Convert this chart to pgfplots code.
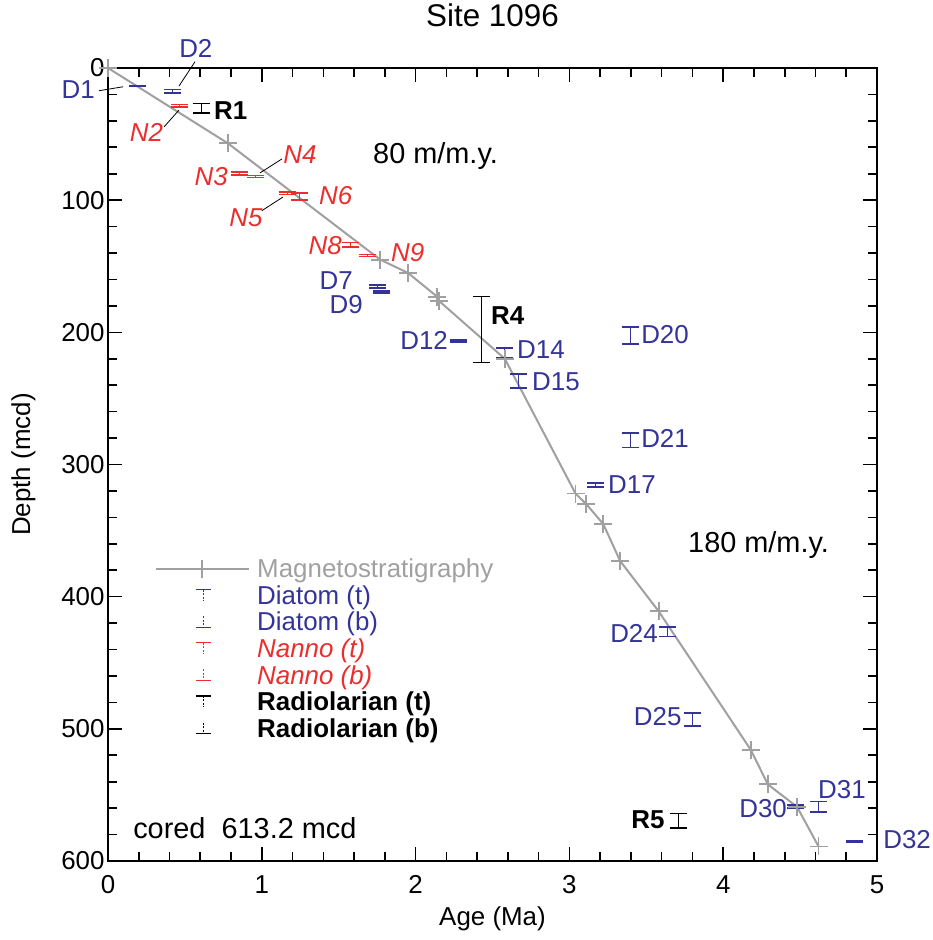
\documentclass[border=0pt]{standalone}
\usepackage{pgfplots}
\pgfplotsset{compat=1.18}
\usepackage{fontspec}
\setmainfont{Liberation Sans}
\definecolor{dblue}{RGB}{51,51,153}
\definecolor{nred}{RGB}{235,45,45}
\definecolor{mgray}{RGB}{160,160,160}
\begin{document}
\begin{tikzpicture}[font=\fontsize{26}{31}\selectfont, lab/.style={inner sep=0pt},
  ann/.style={inner sep=0pt, font=\fontsize{29}{34}\selectfont}]
\begin{axis}[
  scale only axis, width=769bp, height=793bp,
  xmin=0, xmax=5, ymin=0, ymax=600, y dir=reverse,
  xtick={0,1,2,3,4,5}, ytick={0,100,200,300,400,500,600},
  minor x tick num=4, minor y tick num=4,
  tick align=inside, major tick length=14bp, minor tick length=9bp,
  axis line style={line width=2.5bp},
  every tick/.style={line width=1.6bp, black},
  /pgf/number format/assume math mode=true,
  tick label style={font=\fontsize{26}{31}\selectfont},
  xticklabel style={anchor=base, yshift=-32bp},
  clip=false,
  title={Site 1096},
  title style={font=\fontsize{31.5}{36}\selectfont, at={(axis description cs:0.5,1)}, anchor=base, yshift=36bp},
  xlabel={Age (Ma)}, ylabel={Depth (mcd)},
  xlabel style={at={(axis description cs:0.5,0)}, anchor=base, yshift=-64bp},
  ylabel style={yshift=19bp},
  legend cell align=left,
  legend style={at={(0.057,0.386)}, anchor=north west, draw=none, fill=none,
    font=\fontsize{26}{31}\selectfont, row sep=2.3bp},
]
% Magnetostratigraphy
\addplot[mgray, line width=2bp, mark=+, mark size=9bp, mark options={line width=1.8bp}, forget plot] coordinates {
(0,0) (0.78,57) (1.77,145) (1.95,155) (2.14,173) (2.15,176) (2.58,220)
(3.04,322) (3.11,330) (3.22,345) (3.33,373) (3.58,411) (4.18,516) (4.29,542) (4.48,559) (4.62,589)};
% Diatoms
\addplot[mark=none, draw=none, forget plot,
  error bars/.cd, y dir=both, y explicit, error mark=|,
  error bar style={draw=dblue, line width=1bp},
  error mark options={draw=dblue, line width=1.6bp, mark size=8.5bp}] coordinates {
(0.195,13.5) +- (0,0.4)
(0.42,17.5) +- (0,1.2)
(1.755,165.2) +- (0,1.2)
(1.78,169.5) +- (0,0.8)
(2.28,206.5) +- (0,0.8)
(2.575,215.5) +- (0,3.5)
(2.67,236.8) +- (0,5.2)
(3.40,202.5) +- (0,6.5)
(3.40,281.5) +- (0,5.5)
(3.17,315.5) +- (0,1.5)
(3.64,426.5) +- (0,3.5)
(3.80,493) +- (0,5)
(4.47,558.8) +- (0,1.2)
(4.62,559) +- (0,4)
(4.855,585.5) +- (0,0.5)
};
% Nannofossils
\addplot[mark=none, draw=none, forget plot,
  error bars/.cd, y dir=both, y explicit, error mark=|,
  error bar style={draw=nred, line width=1bp},
  error mark options={draw=nred, line width=1.6bp, mark size=8.5bp}] coordinates {
(0.465,28.5) +- (0,1)
(0.855,79.8) +- (0,1.3)
(0.96,82.2) +- (0,0.8)
(1.167,94.8) +- (0,0.8)
(1.245,97.3) +- (0,2.8)
(1.577,133.7) +- (0,1.7)
(1.69,141.8) +- (0,0.8)
};
% Radiolarians
\addplot[mark=none, draw=none, forget plot,
  error bars/.cd, y dir=both, y explicit, error mark=|,
  error bar style={draw=black, line width=1bp},
  error mark options={draw=black, line width=1.4bp, mark size=8.5bp}] coordinates {
(0.605,30.5) +- (0,3.5)
(2.43,198) +- (0,25)
(3.71,569.5) +- (0,5.5)
};
% leader lines
\addplot[black, line width=0.8bp, forget plot] coordinates {(-0.059,17.2) (0.098,14.2)};
\addplot[black, line width=0.8bp, forget plot] coordinates {(0.566,-4.8) (0.462,13.6)};
\addplot[black, line width=0.8bp, forget plot] coordinates {(0.364,44.6) (0.462,31.8)};
\addplot[black, line width=0.8bp, forget plot] coordinates {(1.131,68.8) (0.988,79.4)};
\addplot[black, line width=0.8bp, forget plot] coordinates {(1.0,108) (1.138,97.6)};
% labels
\node[lab, dblue, anchor=east] at (axis cs:-0.085,16.6) {D1};
\node[lab, dblue] at (axis cs:0.571,-15.1) {D2};
\node[lab, nred, font=\fontsize{26}{31}\selectfont\itshape] at (axis cs:0.25,48.6) {N2};
\node[lab, black, anchor=west, font=\fontsize{26}{31}\selectfont\bfseries] at (axis cs:0.689,32.5) {R1};
\node[ann, anchor=west] at (axis cs:1.723,66.6) {80 m/m.y.};
\node[lab, nred, anchor=east, font=\fontsize{26}{31}\selectfont\itshape] at (axis cs:0.78,82.5) {N3};
\node[lab, nred, font=\fontsize{26}{31}\selectfont\itshape] at (axis cs:1.248,65.4) {N4};
\node[lab, nred, font=\fontsize{26}{31}\selectfont\itshape] at (axis cs:0.897,113.5) {N5};
\node[lab, nred, anchor=west, font=\fontsize{26}{31}\selectfont\itshape] at (axis cs:1.372,96.8) {N6};
\node[lab, nred, anchor=east, font=\fontsize{26}{31}\selectfont\itshape] at (axis cs:1.521,134.7) {N8};
\node[lab, nred, anchor=west, font=\fontsize{26}{31}\selectfont\itshape] at (axis cs:1.84,140) {N9};
\node[lab, dblue, anchor=east] at (axis cs:1.593,161) {D7};
\node[lab, dblue, anchor=east] at (axis cs:1.658,179) {D9};
\node[lab, dblue, anchor=east] at (axis cs:2.211,206.5) {D12};
\node[lab, black, anchor=west, font=\fontsize{26}{31}\selectfont\bfseries] at (axis cs:2.49,187) {R4};
\node[lab, dblue, anchor=west] at (axis cs:2.659,213.4) {D14};
\node[lab, dblue, anchor=west] at (axis cs:2.757,237) {D15};
\node[lab, dblue, anchor=west] at (axis cs:3.466,202) {D20};
\node[lab, dblue, anchor=west] at (axis cs:3.466,280) {D21};
\node[lab, dblue, anchor=west] at (axis cs:3.251,315.5) {D17};
\node[lab, dblue, anchor=east] at (axis cs:3.576,427.5) {D24};
\node[lab, dblue, anchor=east] at (axis cs:3.73,491) {D25};
\node[lab, dblue, anchor=east] at (axis cs:4.415,560) {D30};
\node[lab, dblue, anchor=west] at (axis cs:4.616,546) {D31};
\node[lab, dblue, anchor=west] at (axis cs:5.04,584) {D32};
\node[lab, black, anchor=east, font=\fontsize{26}{31}\selectfont\bfseries] at (axis cs:3.62,569) {R5};
\node[ann, anchor=west] at (axis cs:3.771,361) {180 m/m.y.};
\node[ann, anchor=west] at (axis cs:0.163,575) {cored\ \ 613.2 mcd};
% legend
\addlegendimage{legend image code/.code={
  \path (0bp,-9bp) (99bp,9bp);
  \draw[mgray,line width=2bp] (0bp,0bp)--(93bp,0bp);
  \draw[mgray,line width=1.8bp] (46bp,-9bp)--(46bp,9bp);}}
\addlegendentry{\textcolor{mgray}{Magnetostratigraphy}}
\addlegendimage{legend image code/.code={
  \path (0bp,-9bp) (99bp,9bp);
  \draw[dblue,line width=1.2bp] (39.5bp,6bp)--(54.5bp,6bp);
  \draw[dblue,line width=0.8bp,dash pattern=on 2bp off 1.5bp] (47bp,6bp)--(47bp,-5bp);}}
\addlegendentry{\textcolor{dblue}{Diatom (t)}}
\addlegendimage{legend image code/.code={
  \path (0bp,-9bp) (99bp,9bp);
  \draw[dblue,line width=1.2bp] (39.5bp,-5bp)--(54.5bp,-5bp);
  \draw[dblue,line width=0.8bp,dash pattern=on 2bp off 1.5bp] (47bp,6bp)--(47bp,-5bp);}}
\addlegendentry{\textcolor{dblue}{Diatom (b)}}
\addlegendimage{legend image code/.code={
  \path (0bp,-9bp) (99bp,9bp);
  \draw[nred,line width=1.2bp] (39.5bp,6bp)--(54.5bp,6bp);
  \draw[nred,line width=0.8bp,dash pattern=on 2bp off 1.5bp] (47bp,6bp)--(47bp,-5bp);}}
\addlegendentry{\textcolor{nred}{\itshape Nanno (t)}}
\addlegendimage{legend image code/.code={
  \path (0bp,-9bp) (99bp,9bp);
  \draw[nred,line width=1.2bp] (39.5bp,-5bp)--(54.5bp,-5bp);
  \draw[nred,line width=0.8bp,dash pattern=on 2bp off 1.5bp] (47bp,6bp)--(47bp,-5bp);}}
\addlegendentry{\textcolor{nred}{\itshape Nanno (b)}}
\addlegendimage{legend image code/.code={
  \path (0bp,-9bp) (99bp,9bp);
  \draw[black,line width=1.2bp] (39.5bp,6bp)--(54.5bp,6bp);
  \draw[black,line width=0.8bp,dash pattern=on 2bp off 1.5bp] (47bp,6bp)--(47bp,-5bp);}}
\addlegendentry{\textbf{Radiolarian (t)}}
\addlegendimage{legend image code/.code={
  \path (0bp,-9bp) (99bp,9bp);
  \draw[black,line width=1.2bp] (39.5bp,-5bp)--(54.5bp,-5bp);
  \draw[black,line width=0.8bp,dash pattern=on 2bp off 1.5bp] (47bp,6bp)--(47bp,-5bp);}}
\addlegendentry{\textbf{Radiolarian (b)}}
\end{axis}
\coordinate (bl) at ([shift={(-108bp,-79bp)}]current axis.south west);
\coordinate (tr) at ([shift={(55bp,68bp)}]current axis.north east);
\pgfresetboundingbox
\path[use as bounding box] (bl) rectangle (tr);
\end{tikzpicture}
\end{document}
